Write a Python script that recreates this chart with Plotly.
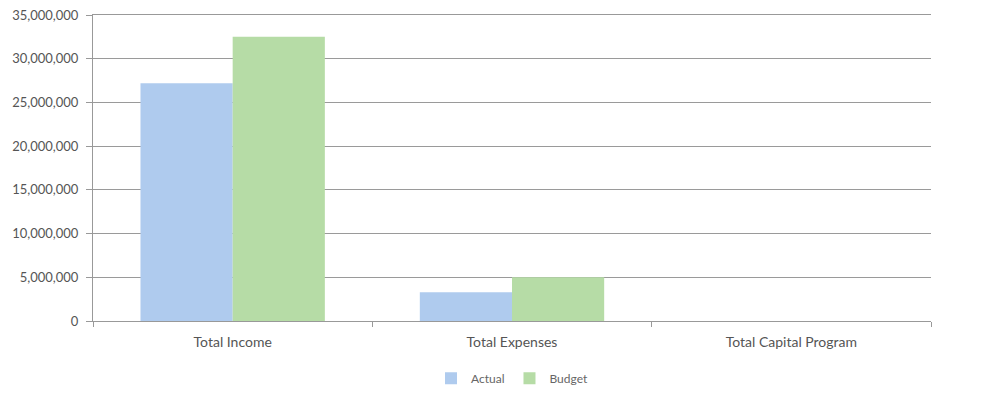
import plotly.graph_objects as go

categories = ["Total Income", "Total Expenses", "Total Capital Program"]
actual = [27200000, 3300000, 0]
budget = [32500000, 5000000, 0]
y_ticks = [0, 5000000, 10000000, 15000000, 20000000, 25000000, 30000000, 35000000]

fig = go.Figure()
fig.add_trace(go.Bar(name="Actual", x=categories, y=actual, marker_color="#afcbee", marker_line_width=0))
fig.add_trace(go.Bar(name="Budget", x=categories, y=budget, marker_color="#b6dca6", marker_line_width=0))

fig.update_layout(
    width=987, height=396,
    margin=dict(l=85, r=64, t=7, b=83, autoexpand=False),
    paper_bgcolor="white", plot_bgcolor="white",
    barmode="group", bargap=0.34, bargroupgap=0,
    font=dict(family="Lato, Open Sans, sans-serif", size=13, color="#555555"),
    legend=dict(orientation="h", x=0.5, xanchor="center", y=-0.14, yanchor="top",
                font=dict(size=12, color="#666666"), itemwidth=30, traceorder="normal"),
    showlegend=True,
)
fig.update_xaxes(showline=True, mirror=True, linecolor="#999999", linewidth=1,
                 ticks="outside", tickson="boundaries", ticklen=5, tickcolor="#999999",
                 ticklabelstandoff=8,
                 showgrid=False, tickfont=dict(size=14, color="#555555"))
fig.update_yaxes(range=[0, 35000000], tickvals=y_ticks,
                 ticktext=[f"{v:,}" for v in y_ticks],
                 showline=True, linecolor="#999999", linewidth=1,
                 ticks="outside", ticklen=6, tickcolor="#999999",
                 ticklabelstandoff=5, ticklabeloverflow="allow",
                 showgrid=True, gridcolor="#9a9a9a", gridwidth=1, zeroline=False,
                 tickfont=dict(size=13, color="#555555"))

fig.write_html("out.html")
